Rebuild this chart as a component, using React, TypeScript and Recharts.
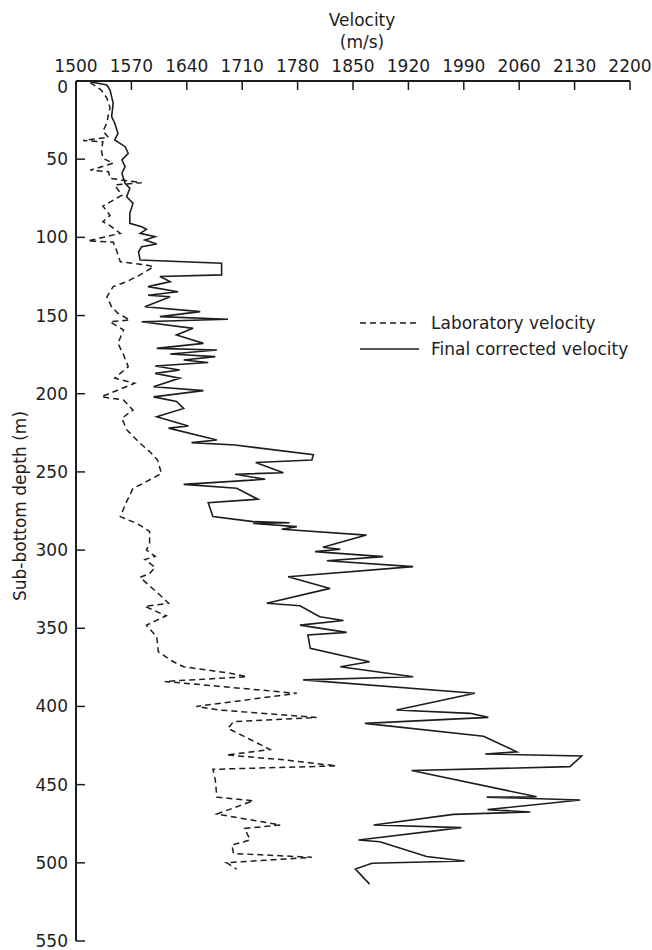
import React from "react";
import { ScatterChart, Scatter, XAxis, YAxis, Label, Legend } from "recharts";

const velocityTicks = [1500, 1570, 1640, 1710, 1780, 1850, 1920, 1990, 2060, 2130, 2200];
const depthTicks = [0, 50, 100, 150, 200, 250, 300, 350, 400, 450, 500, 550];

// laboratory velocity (dashed)
const labDepth = [
  1, 5.8, 11, 17, 21, 27, 32, 36, 38, 39, 44, 49.5, 52.6, 57, 58, 62.3, 65, 66.5, 73, 80,
  86, 90, 92.5, 97.4, 102.3, 103, 108, 115.6, 117.7, 118.8, 124, 128.3, 131.5, 138, 144.4,
  148.6, 152.8, 154, 159.2, 167.8, 175, 182.7, 190, 193.3, 202, 204, 210.4, 215.7, 223,
  231.7, 237, 242.4, 251, 257.3, 260.5, 269, 278.6, 283, 288, 295.5, 300, 304, 306, 311,
  315, 317.4, 322, 328.7, 334, 336, 342, 348, 355.4, 365, 371.4, 374.6, 378.8, 381, 384,
  391.6, 400, 402.3, 407, 409.7, 414, 427.5, 431, 434.3, 438, 440.2, 447, 458, 460.3,
  468.8, 475.8, 478, 485.4, 488.6, 494, 496.5, 499.9, 504,
];
const labVelocity = [
  1518, 1532, 1539, 1543, 1541, 1539, 1534, 1541, 1509, 1534, 1532, 1534, 1547, 1518, 1541,
  1543, 1583, 1549, 1558, 1534, 1543, 1534, 1543, 1556, 1515, 1547, 1551, 1556, 1589, 1598,
  1581, 1564, 1547, 1539, 1545, 1553, 1568, 1543, 1560, 1553, 1560, 1566, 1549, 1574, 1532,
  1560, 1572, 1558, 1564, 1581, 1593, 1603, 1608, 1585, 1572, 1564, 1556, 1577, 1593, 1593,
  1589, 1600, 1587, 1600, 1593, 1581, 1591, 1606, 1617, 1587, 1614, 1589, 1602, 1604, 1623,
  1636, 1695, 1716, 1612, 1779, 1652, 1682, 1804, 1699, 1692, 1745, 1690, 1766, 1829, 1673,
  1676, 1678, 1724, 1678, 1758, 1713, 1720, 1697, 1699, 1798, 1690, 1703,
];

// final corrected velocity (solid)
const finalDepth = [
  0.5, 2.6, 5.8, 14.3, 22.8, 27, 33.5, 37.7, 42, 46.2, 50.5, 54.8, 59, 65.4, 68.6, 74, 78.2,
  84.6, 91, 93.2, 94.9, 97.4, 99.6, 101.7, 104.2, 106, 109.2, 114.5, 116.6, 124, 125, 128.3,
  131.5, 134.8, 137, 138, 144.4, 147.5, 150.7, 152.4, 154, 158.2, 162.4, 167.8, 171, 172,
  174.6, 176.3, 178.4, 180, 182.3, 184.8, 187, 190, 195.5, 198, 202, 205, 209.4, 214.7,
  220.6, 222, 229.6, 231.3, 232.8, 239, 242.4, 244, 250.5, 251.5, 254.7, 258, 260.5, 267.5,
  269.7, 278.6, 281.8, 282.5, 283, 285, 286.7, 290.4, 298.2, 299.5, 301, 304.2, 306.8,
  310.6, 317, 324.5, 334, 335.6, 342.6, 345, 348, 352.6, 354.3, 362.8, 371.4, 374.6, 377.8,
  381, 383, 391.6, 402.3, 404.4, 407, 410.8, 419, 429, 430.4, 431.7, 438.5, 441, 457.7, 458,
  459.8, 466, 467.5, 469, 475.8, 477.5, 485.4, 486.5, 496, 498.8, 500.3, 504, 513.6,
];
const finalVelocity = [
  1518, 1539, 1543, 1547, 1545, 1549, 1553, 1549, 1562, 1566, 1558, 1562, 1558, 1562, 1568,
  1564, 1572, 1568, 1568, 1583, 1589, 1581, 1600, 1587, 1602, 1583, 1579, 1581, 1684, 1684,
  1606, 1619, 1591, 1629, 1591, 1619, 1587, 1657, 1606, 1692, 1583, 1648, 1627, 1661, 1602,
  1678, 1619, 1676, 1636, 1667, 1600, 1631, 1600, 1631, 1598, 1661, 1598, 1627, 1636, 1602,
  1642, 1617, 1678, 1646, 1701, 1800, 1798, 1727, 1762, 1701, 1739, 1636, 1703, 1730, 1667,
  1673, 1724, 1770, 1724, 1779, 1760, 1867, 1812, 1834, 1802, 1888, 1817, 1926, 1768, 1821,
  1741, 1783, 1808, 1838, 1783, 1842, 1793, 1796, 1871, 1834, 1880, 1926, 1787, 2004, 1905,
  1998, 2021, 1865, 2015, 2057, 2017, 2139, 2124, 1924, 2082, 2019, 2137, 2020, 2074, 1977,
  1876, 1987, 1857, 1884, 1943, 1991, 1874, 1853, 1871,
];

const labData = labDepth.map((d, i) => ({ d, v: labVelocity[i] }));
const finalData = finalDepth.map((d, i) => ({ d, v: finalVelocity[i] }));

const FONT = "'DejaVu Sans', sans-serif";
const INK = "#1d1d1d";

const noDot = () => <g />;

// the "0" label sits a little below its tick in the original
const DepthTick = (props: any) => {
  const { x, y, payload } = props;
  return (
    <text
      x={x}
      y={y + (payload.value === 0 ? 6 : 0)}
      textAnchor="end"
      dominantBaseline="central"
      fontSize={17}
      fill={INK}
      fontFamily={FONT}
    >
      {payload.value}
    </text>
  );
};

const VelocityTitle = () => (
  <g>
    <text x={362} y={20} textAnchor="middle" dominantBaseline="central" fontSize={17} fill={INK} fontFamily={FONT}>
      Velocity
    </text>
    <text x={362} y={42} textAnchor="middle" dominantBaseline="central" fontSize={17} fill={INK} fontFamily={FONT}>
      (m/s)
    </text>
  </g>
);

const DepthTitle = () => (
  <text
    x={20}
    y={506}
    transform="rotate(-90 20 506)"
    textAnchor="middle"
    dominantBaseline="central"
    fontSize={17}
    fill={INK}
    fontFamily={FONT}
  >
    Sub-bottom depth (m)
  </text>
);

const LegendBox = () => (
  <div style={{ fontFamily: FONT, fontSize: 17, color: INK }}>
    {[
      { name: "Laboratory velocity", dash: "6 4" },
      { name: "Final corrected velocity", dash: undefined },
    ].map((item) => (
      <div key={item.name} style={{ height: 26, lineHeight: "26px", whiteSpace: "nowrap" }}>
        <svg width={59} height={26} style={{ verticalAlign: "top", marginRight: 12 }}>
          <line x1={0} y1={13} x2={59} y2={13} stroke={INK} strokeWidth={1.6} strokeDasharray={item.dash} />
        </svg>
        <span>{item.name}</span>
      </div>
    ))}
  </div>
);

export default function App() {
  return (
    <div style={{ position: "absolute", left: 0, top: 0, width: 652, height: 950, background: "#fff" }}>
      <ScatterChart width={652} height={950} margin={{ top: 0, right: 22, bottom: 9, left: 0 }}>
        <XAxis
          xAxisId={0}
          dataKey="v"
          type="number"
          orientation="top"
          domain={[1500, 2200]}
          ticks={velocityTicks}
          interval={0}
          height={81}
          allowDataOverflow
          axisLine={{ stroke: INK, strokeWidth: 2 }}
          tickLine={{ stroke: INK, strokeWidth: 1.5 }}
          tickSize={-9}
          tickMargin={18}
          tick={{ fill: INK, fontSize: 17, fontFamily: FONT }}
        >
          <Label content={<VelocityTitle />} />
        </XAxis>
        <YAxis
          yAxisId={0}
          dataKey="d"
          type="number"
          reversed
          domain={[0, 550]}
          ticks={depthTicks}
          interval={0}
          width={76}
          allowDataOverflow
          axisLine={{ stroke: INK, strokeWidth: 2 }}
          tickLine={{ stroke: INK, strokeWidth: 1.5 }}
          tickSize={-9}
          tickMargin={17}
          tick={<DepthTick />}
        >
          <Label content={<DepthTitle />} />
        </YAxis>
        <Legend
          layout="horizontal"
          verticalAlign="middle"
          align="center"
          content={<LegendBox />}
          wrapperStyle={{ left: 360, top: 310, width: "auto" }}
        />
        <Scatter
          name="Laboratory velocity"
          data={labData}
          shape={noDot}
          line={{ stroke: INK, strokeWidth: 1.5, strokeDasharray: "6 4" }}
          isAnimationActive={false}
        />
        <Scatter
          name="Final corrected velocity"
          data={finalData}
          shape={noDot}
          line={{ stroke: INK, strokeWidth: 1.6 }}
          isAnimationActive={false}
        />
      </ScatterChart>
    </div>
  );
}
